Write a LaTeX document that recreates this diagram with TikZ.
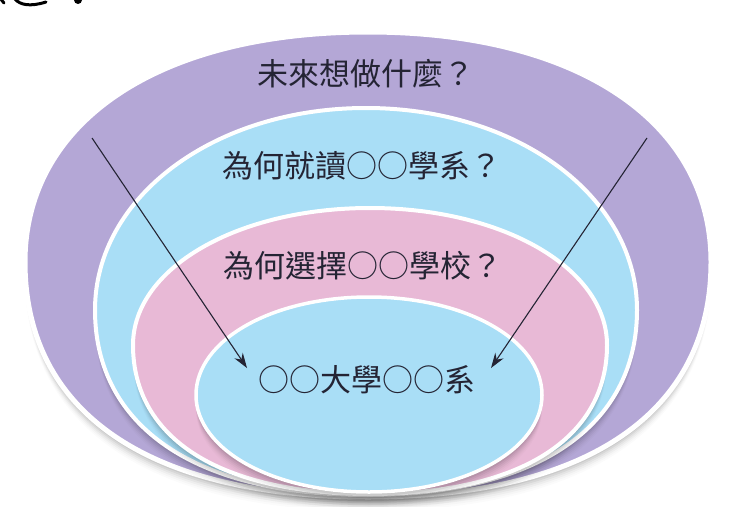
\documentclass[tikz,border=0pt]{standalone}
\usepackage{fontspec}
\newfontfamily\cjk{Noto Sans CJK TC}
\usetikzlibrary{arrows.meta}
\definecolor{ringpurple}{RGB}{180,167,214}
\definecolor{ringblue}{RGB}{169,222,246}
\definecolor{ringpink}{RGB}{232,185,214}
\definecolor{inkdark}{RGB}{36,36,52}
\newcommand{\ringpath}[7]{%
  ({#1-#3},{#2}) .. controls ({#1-#3},{#2-#6*#4}) and ({#1-#6*#3},{#2-#4}) .. ({#1},{#2-#4})
  .. controls ({#1+#6*#3},{#2-#4}) and ({#1+#3},{#2-#6*#4}) .. ({#1+#3},{#2})
  .. controls ({#1+#3},{#2+#7*#5}) and ({#1+#7*#3},{#2+#5}) .. ({#1},{#2+#5})
  .. controls ({#1-#7*#3},{#2+#5}) and ({#1-#3},{#2+#7*#5}) .. ({#1-#3},{#2}) -- cycle}
\newcommand{\ringlayer}[9]{%
  \foreach \off/\op in {2/0.07,4/0.06,6/0.05,8/0.04,10/0.03,12/0.02,14/0.015}{%
    \fill[black,opacity=\op,yshift=-\off pt] \ringpath{#1}{#2}{#3}{#4}{#5}{#6}{#7};}
  \filldraw[fill=#8,draw=white,line width=#9] \ringpath{#1}{#2}{#3}{#4}{#5}{#6}{#7};}
\tikzset{
  ringtext/.style={font=\cjk\fontsize{31}{36}\selectfont,text=inkdark,inner sep=0pt},
  pointer/.style={draw=inkdark,line width=1.1pt,-{Stealth[length=15pt,width=10pt]}}
}
\begin{document}
\begin{tikzpicture}[x=1pt,y=-1pt]
\useasboundingbox (0,0) rectangle (730,506);
\fill[white] (0,0) rectangle (730,506);
% cut-off fragment of a heading at the top-left
\draw[black,line width=3pt,line cap=round] (0,-2) -- (4,3);
\draw[black,line width=3pt,line cap=round] (15,-1) .. controls (20,5) and (30,7) .. (46,2);
\fill[black] (78,0) circle (4);
% rings
\ringlayer{368}{262}{343}{230}{235}{0.61}{0.64}{ringpurple}{5pt}
\ringlayer{366}{310}{271}{202}{185}{0.56}{0.63}{ringblue}{4pt}
\ringlayer{370}{345}{237}{137}{149}{0.56}{0.63}{ringpink}{4pt}
\ringlayer{369}{395}{173}{98}{97}{0.56}{0.56}{ringblue}{3.5pt}
% texts
\node[ringtext] (future) at (366,74) {未來想做什麼？};
\node[ringtext] (dept) at (362,166) {為何就讀○○學系？};
\node[ringtext] (school) at (363,266) {為何選擇○○學校？};
\node[ringtext] (target) at (367,380) {○○大學○○系};
% arrows
\coordinate (lstart) at (92,138);
\coordinate (lend) at (247,368);
\coordinate (rstart) at (647,138);
\coordinate (rend) at (491,368);
\draw[pointer] (lstart) -- (lend);
\draw[pointer] (rstart) -- (rend);
\end{tikzpicture}
\end{document}
